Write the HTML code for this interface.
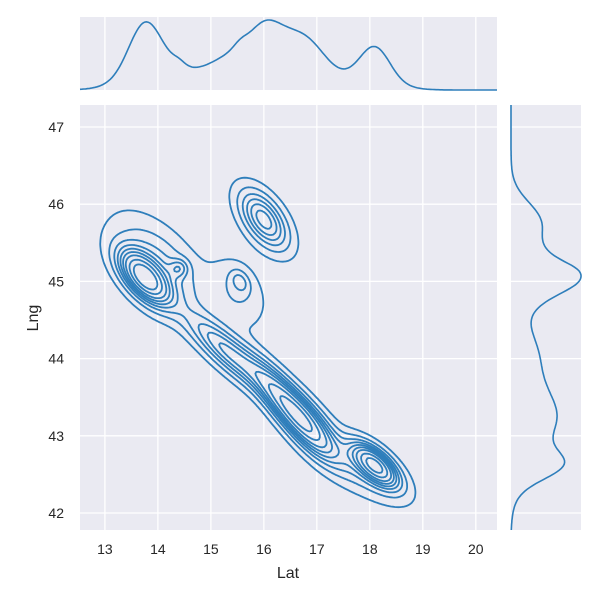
<!DOCTYPE html>
<html><head><meta charset="utf-8"><style>
body{margin:0;background:#fff}
svg text{font-family:"Liberation Sans",sans-serif;fill:#262626}
</style></head><body>
<svg id="chart" width="600" height="600" viewBox="0 0 600 600">
<rect x="80" y="105" width="417" height="425" fill="#eaeaf2"/>
<rect x="80" y="17" width="417" height="73" fill="#eaeaf2"/>
<rect x="511" y="105" width="70" height="425" fill="#eaeaf2"/>
<g id="grid"></g><g id="marks"></g><g id="ticks"></g>
<text x="288" y="578" font-size="16" text-anchor="middle">Lat</text>
<text x="38" y="318" font-size="16" text-anchor="middle" transform="rotate(-90 38 318)">Lng</text>
</svg>
<script>
// mixture components describing the density (lat, lng, sdLat, sdLng, rho, weight)
const compLat = [13.75,14.0,14.4,16.0,15.55,15.3,16.45,16.9,18.1,17.8,15.5];
const compLng = [45.05,45.2,45.17,45.8,45.0,44.1,43.4,43.1,42.62,42.6,44.85];
const compSx  = [0.3,0.55,0.12,0.3,0.12,0.5,0.45,0.35,0.28,0.55,0.35];
const compSy  = [0.22,0.4,0.08,0.25,0.1,0.32,0.36,0.28,0.18,0.3,0.3];
const compRho = [-0.6,-0.55,0,-0.55,-0.3,-0.85,-0.85,-0.7,-0.65,-0.7,-0.3];
const compW   = [0.15,0.14,0.006,0.1,0.006,0.12,0.2,0.08,0.1,0.07,0.04];
const xTicks = [13,14,15,16,17,18,19,20];
const yTicks = [42,43,44,45,46,47];
const nLevels = 10, thresh = 0.05;

const X0=12.53,X1=20.4,Y0=41.78,Y1=47.285;
const sx=v=>80+(v-X0)/(X1-X0)*417;
const sy=v=>530-(v-Y0)/(Y1-Y0)*425;
const NS='http://www.w3.org/2000/svg';
function mk(tag,attrs,parent){const e=document.createElementNS(NS,tag);for(const k in attrs)e.setAttribute(k,attrs[k]);parent.appendChild(e);return e;}
const grid=document.getElementById('grid'),marks=document.getElementById('marks'),ticks=document.getElementById('ticks');
const C='#2e7ebb';
xTicks.forEach(t=>{
  const x=sx(t);
  let g=mk('line',{x1:x,x2:x,y1:105,y2:530,stroke:'#fff','stroke-width':1.3},grid);
  
  
  g=mk('line',{x1:x,x2:x,y1:17,y2:90,stroke:'#fff','stroke-width':1.3},grid);
  
  
  const tx=mk('text',{x:x,y:554,'font-size':14,'text-anchor':'middle'},ticks);tx.textContent=t;
  
  
});
yTicks.forEach(t=>{
  const y=sy(t);
  let g=mk('line',{x1:80,x2:497,y1:y,y2:y,stroke:'#fff','stroke-width':1.3},grid);
  
  
  g=mk('line',{x1:511,x2:581,y1:y,y2:y,stroke:'#fff','stroke-width':1.3},grid);
  
  
  const tx=mk('text',{x:64,y:y+5,'font-size':14,'text-anchor':'end'},ticks);tx.textContent=t;
  
  
});
function dens(x,y){let s=0;for(let i=0;i<compW.length;i++){const a=(x-compLat[i])/compSx[i],b=(y-compLng[i])/compSy[i],r=compRho[i],q=1-r*r;
 s+=compW[i]/(2*Math.PI*compSx[i]*compSy[i]*Math.sqrt(q))*Math.exp(-(a*a-2*r*a*b+b*b)/(2*q));}return s;}
const N=220;const gx=[],gy=[],Z=[];
for(let i=0;i<=N;i++){gx.push(X0+(X1-X0)*i/N);gy.push(Y0+(Y1-Y0)*i/N);}
for(let j=0;j<=N;j++){Z.push([]);for(let i=0;i<=N;i++)Z[j].push(dens(gx[i],gy[j]));}
const all=[].concat(...Z).sort((a,b)=>a-b);const tot=all.reduce((a,b)=>a+b,0);
const levels=[];for(let k=0;k<nLevels-1;k++){const p=thresh+(1-thresh)*k/(nLevels-1);let c=0;for(let m=0;m<all.length;m++){c+=all[m];if(c>=p*tot){levels.push(all[m]);break;}}}
levels.forEach((L,li)=>{
  let d='';
  for(let j=0;j<N;j++)for(let i=0;i<N;i++){
    const v=[Z[j][i],Z[j][i+1],Z[j+1][i+1],Z[j+1][i]];
    const px=[gx[i],gx[i+1],gx[i+1],gx[i]],py=[gy[j],gy[j],gy[j+1],gy[j+1]];
    const pts=[];
    for(let e=0;e<4;e++){const a=e,b=(e+1)%4;if((v[a]>=L)!==(v[b]>=L)){const t=(L-v[a])/(v[b]-v[a]);pts.push([sx(px[a]+t*(px[b]-px[a])),sy(py[a]+t*(py[b]-py[a]))]);}}
    for(let k=0;k+1<pts.length;k+=2)d+='M'+pts[k][0].toFixed(1)+' '+pts[k][1].toFixed(1)+'L'+pts[k+1][0].toFixed(1)+' '+pts[k+1][1].toFixed(1);
  }
  const p=mk('path',{d:d,fill:'none',stroke:C,'stroke-width':1.8,'stroke-linecap':'round'},marks);
  
  
});
// marginals
const mx=gx.map((_,i)=>{let s=0;for(let j=0;j<=N;j++)s+=Z[j][i];return s;});
const my=gy.map((_,j)=>Z[j].reduce((a,b)=>a+b,0));
const mxMax=Math.max(...mx),myMax=Math.max(...my);
let dt='';gx.forEach((x,i)=>{dt+=(i?'L':'M')+sx(x).toFixed(1)+' '+(90-mx[i]/mxMax*70).toFixed(1);});
let p=mk('path',{d:dt,fill:'none',stroke:C,'stroke-width':1.6},marks);


let dr='';gy.forEach((y,j)=>{dr+=(j?'L':'M')+(511+my[j]/myMax*70).toFixed(1)+' '+sy(y).toFixed(1);});
p=mk('path',{d:dr,fill:'none',stroke:C,'stroke-width':1.6},marks);


</script>
</body></html>
